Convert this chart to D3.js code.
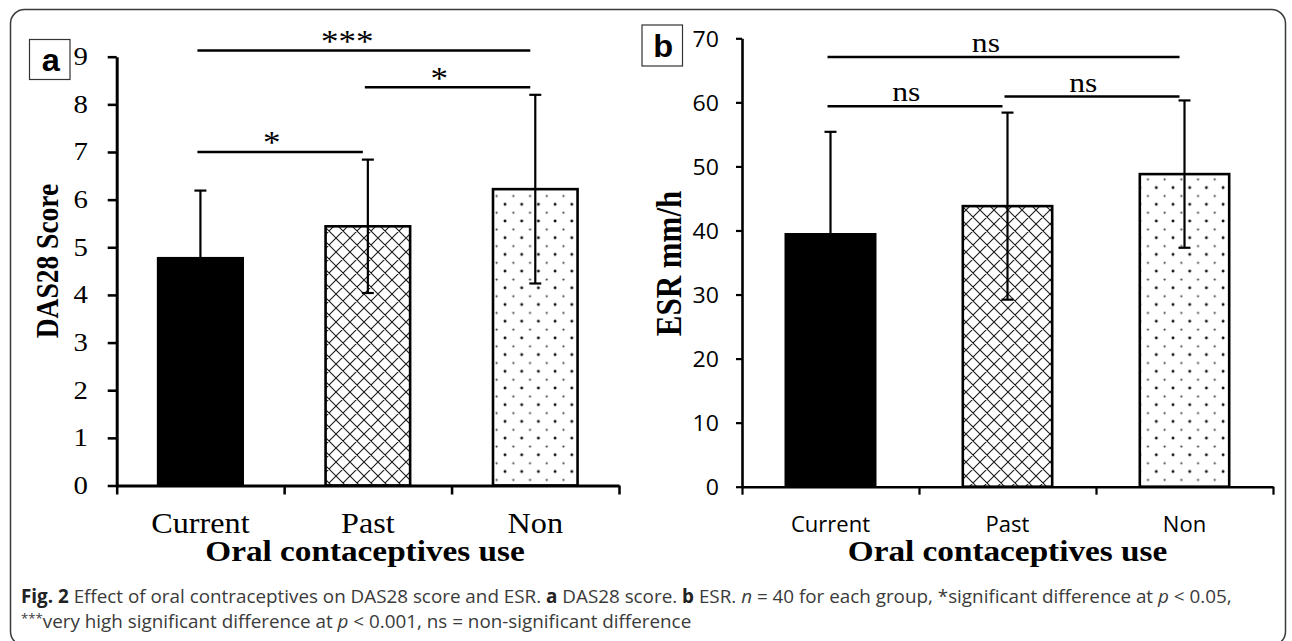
<!DOCTYPE html>
<html><head><meta charset="utf-8">
<script src="https://cdn.jsdelivr.net/npm/d3@7"></script>
<style>html,body{margin:0;padding:0;background:#fff;} svg{display:block;}</style>
</head><body>
<svg id="chart" width="1292" height="641"></svg>
<script>
// ---------- data ----------
const categories = ["Current", "Past", "Non"];
const dasMeans = [4.77, 5.44, 6.22];
const dasSD = [1.42, 1.40, 1.98];
const esrMeans = [39.4, 43.8, 48.8];
const esrSD = [16.0, 14.6, 11.5];
const dasTicks = [0, 1, 2, 3, 4, 5, 6, 7, 8, 9];
const esrTicks = [0, 10, 20, 30, 40, 50, 60, 70];
const dasCompFrom = ["Current", "Past", "Current"];
const dasCompTo = ["Past", "Non", "Non"];
const dasCompLevel = [7.0, 8.36, 9.13];
const dasCompLabel = ["*", "*", "***"];
const esrCompFrom = ["Current", "Past", "Current"];
const esrCompTo = ["Past", "Non", "Non"];
const esrCompLevel = [59.4, 60.9, 67.1];
const esrCompLabel = ["ns", "ns", "ns"];
const fillKinds = ["solid", "cross", "dots"];

// ---------- setup ----------
const svg = d3.select("#chart");
const SX = 1.13; // horizontal stretch of the original figure's text
const SERIF = "'Liberation Serif','Times New Roman',serif";
const SANS = "'Open Sans','Noto Sans',sans-serif";

const defs = svg.append("defs");
const pc = defs.append("pattern").attr("id", "cross").attr("patternUnits", "userSpaceOnUse")
  .attr("width", 14).attr("height", 14);
pc.append("rect").attr("width", 14).attr("height", 14).attr("fill", "#fff");
pc.append("path").attr("d", "M0,0L14,14M14,0L0,14M-1,13L1,15M13,-1L15,1M13,15L15,13M-1,1L1,-1")
  .attr("stroke", "#1a1a1a").attr("stroke-width", 1.1).attr("fill", "none");
const pd = defs.append("pattern").attr("id", "dots").attr("patternUnits", "userSpaceOnUse")
  .attr("width", 16.7).attr("height", 16.7);
pd.append("rect").attr("width", 16.7).attr("height", 16.7).attr("fill", "#fff");
pd.append("circle").attr("cx", 4).attr("cy", 4).attr("r", 1.45).attr("fill", "#111");
pd.append("circle").attr("cx", 12.35).attr("cy", 12.35).attr("r", 1.1).attr("fill", "#444");

function fillFor(k) { return k === "solid" ? "#000" : (k === "cross" ? "url(#cross)" : "url(#dots)"); }

function stext(g, x, y, str, o) {
  const t = g.append("text")
    .attr("transform", `translate(${x},${y}) scale(${o.sx || 1},1)` + (o.rot ? ` rotate(${o.rot})` : ""))
    .attr("text-anchor", o.anchor || "middle")
    .style("font-family", o.family).style("font-size", o.size + "px")
    .style("font-weight", o.weight || "normal").attr("fill", o.fill || "#000")
    .text(str);
  if (o.baseline) t.attr("dominant-baseline", o.baseline);
  return t;
}

// ---------- border ----------
svg.append("rect").attr("x", 10.5).attr("y", 9.5).attr("width", 1275).attr("height", 636)
  .attr("rx", 14).attr("fill", "none").attr("stroke", "#3a3a3a").attr("stroke-width", 1.5);

function drawPanel(cfg) {
  const g = svg.append("g");
  const x = d3.scaleBand().domain(categories).range(cfg.xRange).padding(0);
  const y = d3.scaleLinear().domain(cfg.domain).range(cfg.yRange);
  const bw = x.bandwidth();
  const barW = bw * 0.505;
  const cx = c => x(c) + bw / 2;

  // bars
  g.selectAll("rect.bar").data(categories).join("rect").attr("class", "bar")
    .attr("x", c => cx(c) - barW / 2).attr("width", barW)
    .attr("y", (c, i) => y(cfg.means[i])).attr("height", (c, i) => y(0) - y(cfg.means[i]))
    .attr("fill", (c, i) => fillFor(fillKinds[i])).attr("stroke", "#000").attr("stroke-width", 2.6);

  // error bars
  const eb = g.selectAll("g.err").data(categories).join("g").attr("class", "err")
    .attr("stroke", "#000").attr("stroke-width", 2.2);
  eb.append("line").attr("x1", c => cx(c)).attr("x2", c => cx(c))
    .attr("y1", (c, i) => y(cfg.means[i] - cfg.sds[i])).attr("y2", (c, i) => y(cfg.means[i] + cfg.sds[i]));
  eb.append("line").attr("x1", c => cx(c) - 6).attr("x2", c => cx(c) + 6)
    .attr("y1", (c, i) => y(cfg.means[i] + cfg.sds[i])).attr("y2", (c, i) => y(cfg.means[i] + cfg.sds[i]));
  eb.append("line").attr("x1", c => cx(c) - 6).attr("x2", c => cx(c) + 6)
    .attr("y1", (c, i) => y(cfg.means[i] - cfg.sds[i])).attr("y2", (c, i) => y(cfg.means[i] - cfg.sds[i]));

  // y axis
  const ya = g.append("g").attr("transform", `translate(${cfg.xRange[0]},0)`)
    .call(d3.axisLeft(y).tickValues(cfg.ticks).tickSize(cfg.yTick).tickSizeOuter(0).tickFormat(""));
  ya.select(".domain").attr("stroke-width", cfg.axisW);
  ya.selectAll(".tick line").attr("stroke-width", cfg.axisW * 0.85);
  cfg.ticks.forEach(t => stext(g, cfg.tickLabelX, y(t), String(t),
    { family: cfg.tickFont, size: cfg.tickSize, anchor: "end", baseline: "central", sx: cfg.tickSX }));

  // x axis
  const bx = d3.scaleLinear().domain([0, categories.length]).range(cfg.xRange);
  const xa = g.append("g").attr("transform", `translate(0,${y(0)})`)
    .call(d3.axisBottom(bx).tickValues(d3.range(categories.length + 1)).tickSize(cfg.xTick).tickSizeOuter(0).tickFormat(""));
  xa.select(".domain").attr("stroke-width", cfg.axisW);
  xa.selectAll(".tick line").attr("stroke-width", cfg.axisW * 0.85);

  categories.forEach(c => stext(g, cx(c), cfg.catY, c,
    { family: cfg.catFont, size: cfg.catSize, sx: cfg.catSX }));

  // titles
  stext(g, cfg.titleX, 561, "Oral contaceptives use", { family: SERIF, size: 29, weight: "bold", sx: SX * 1.015 });
  stext(g, cfg.yLabelX, cfg.yLabelY, cfg.yLabel, { family: SERIF, size: cfg.yLabelSize, weight: "bold", sx: SX, rot: -90 });

  // comparisons
  cfg.compFrom.forEach((f, i) => {
    const x1 = cx(f) - 3, x2 = cx(cfg.compTo[i]) - 5, yy = y(cfg.compLevel[i]);
    g.append("line").attr("x1", x1).attr("x2", x2).attr("y1", yy).attr("y2", yy)
      .attr("stroke", "#000").attr("stroke-width", 2.5);
    stext(g, x1 + (x2 - x1) * 0.45, yy + cfg.compDy, cfg.compLabel[i],
      { family: SERIF, size: cfg.compSize, sx: SX });
  });

  // panel letter box
  g.append("rect").attr("x", cfg.box[0]).attr("y", cfg.box[1]).attr("width", cfg.box[2]).attr("height", cfg.box[3])
    .attr("fill", "#fff").attr("stroke", "#333").attr("stroke-width", 1.2);
  stext(g, cfg.box[0] + cfg.box[2] / 2 + 1, cfg.box[1] + cfg.box[3] * 0.78, cfg.letter,
    { family: "'Liberation Sans',Arial,sans-serif", size: 31, weight: "bold", sx: 1.05 });
}

drawPanel({
  xRange: [116.7, 619], yRange: [485.5, 56.7], domain: [0, 9],
  means: dasMeans, sds: dasSD, ticks: dasTicks,
  yTick: 9, xTick: 9, axisW: 3,
  tickLabelX: 88, tickFont: SERIF, tickSize: 25.5, tickSX: SX,
  catY: 533, catFont: SERIF, catSize: 28.5, catSX: SX,
  titleX: 365, yLabel: "DAS28 Score", yLabelX: 58, yLabelY: 261, yLabelSize: 27.5,
  compFrom: dasCompFrom, compTo: dasCompTo, compLevel: dasCompLevel, compLabel: dasCompLabel,
  compDy: 1.5, compSize: 31,
  box: [29.5, 39.5, 40.5, 40], letter: "a"
});

drawPanel({
  xRange: [742, 1273], yRange: [486.7, 38.3], domain: [0, 70],
  means: esrMeans, sds: esrSD, ticks: esrTicks,
  yTick: 6, xTick: 8, axisW: 2.6,
  tickLabelX: 719, tickFont: SANS, tickSize: 21, tickSX: 1.1,
  catY: 532, catFont: SANS, catSize: 22, catSX: 1,
  titleX: 1007.5, yLabel: "ESR mm/h", yLabelX: 681, yLabelY: 263.5, yLabelSize: 31,
  compFrom: esrCompFrom, compTo: esrCompTo, compLevel: esrCompLevel, compLabel: esrCompLabel,
  compDy: -5, compSize: 28,
  box: [642, 25, 40.5, 41], letter: "b"
});

// ---------- caption ----------
function caption(y, parts, size) {
  const t = svg.append("text").attr("x", 21).attr("y", y)
    .style("font-family", SANS).style("font-size", size + "px").attr("fill", "#3a3a3a");
  parts.forEach(p => {
    const s = t.append("tspan").text(p[0]);
    if (p[1] === "b") s.style("font-weight", "bold").attr("fill", "#222");
    if (p[1] === "i") s.style("font-style", "italic");
    if (p[1] === "sup") s.style("font-size", "0.7em").attr("dy", "-0.4em");
    if (p[1] === "after") s.attr("dy", "0.28em");
  });
  return t;
}
const line1 = [["Fig. 2", "b"], [" Effect of oral contraceptives on DAS28 score and ESR. "], ["a", "b"],
  [" DAS28 score. "], ["b", "b"], [" ESR. "], ["n", "i"], [" = 40 for each group, *significant difference at "],
  ["p", "i"], [" < 0.05,"]];
const line2 = [["***", "sup"], ["very high significant difference at ", "after"], ["p", "i"],
  [" < 0.001, ns = non-significant difference"]];
const c1 = caption(603, line1, 18);
const len = c1.node().getComputedTextLength();
const fs = 18 * 1211 / len;
c1.style("font-size", fs + "px");
caption(628, line2, fs);
</script>
</body></html>
